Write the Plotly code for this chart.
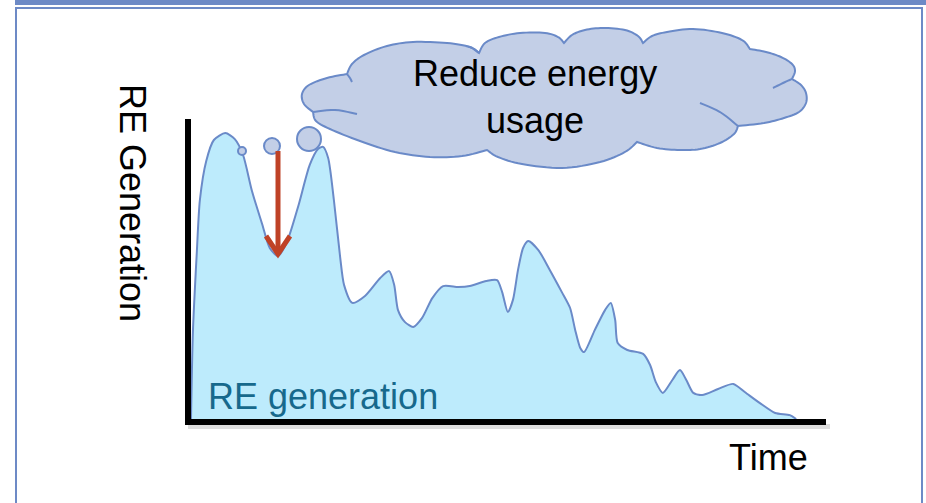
import plotly.graph_objects as go

# ---------------- data ----------------
time = [0, 0.3, 0.9, 1.4, 2.4, 3.6, 5.4, 6.9, 8.2, 9.6, 11.2, 12.4, 13.7, 15.1, 16.9,
        18.7, 20.0, 20.8, 21.6, 22.5, 23.5, 24.1, 25.4, 27.4, 29.8, 31.2, 32.0, 32.6,
        33.7, 35.0, 36.4, 38.0, 39.7, 42.1, 43.9, 46.5, 48.2, 49.0, 49.9, 50.7, 51.5,
        52.3, 53.1, 54.7, 56.5, 58.4, 59.7, 60.5, 61.3, 61.9, 63.6, 65.2, 66.1, 66.8,
        67.2, 68.7, 71.2, 72.3, 73.2, 74.3, 75.8, 77.0, 78.0, 79.1, 80.5, 83.0, 85.4,
        87.2, 89.6, 92.0, 94.3, 95.3]
generation = [0, 29, 55, 73, 86, 93, 95.3, 93.3, 88, 76, 65, 57, 54.3, 59, 71, 84.7,
              90, 90.7, 87, 73, 53.7, 44.7, 38.7, 41, 47, 49.3, 44.7, 36.3, 32.3, 30.7,
              33.7, 40.3, 44.3, 44, 44.3, 46, 46.3, 42.3, 35.7, 39.7, 49.7, 57, 59.3,
              56.3, 49.7, 42.3, 37, 29.7, 23.7, 22.3, 29.7, 36.3, 38.7, 33, 25.3, 23,
              21.7, 18, 12.3, 8.7, 13, 16.3, 13, 8.7, 8, 10, 11.7, 9, 5.3, 2, 1.3, 0]

y_title = "RE Generation"
x_title = "Time"
series_label = "RE generation"
cloud_text = "Reduce energy<br>usage"

# ---------------- layout helpers ----------------
W, H = 926, 503
L, R, T, B = 191, 826, 119, 419   # plot area in pixels

FONT = "Liberation Sans, Arial, sans-serif"
FRAME = "#6D8AC6"
CLOUD_FILL = "#C3CFE7"
CLOUD_LINE = "#6A8AC8"
ARROW = "#BF4226"


def fx(x):
    return (x - L) / (R - L)


def fy(y):
    return (B - y) / (B - T)


def smooth(pts, n=8):
    """Catmull-Rom curve through the given points."""
    P = [pts[0]] + list(pts) + [pts[-1]]
    out = []
    for i in range(1, len(P) - 2):
        p0, p1, p2, p3 = P[i - 1], P[i], P[i + 1], P[i + 2]
        for k in range(n):
            t = k / n
            t2, t3 = t * t, t * t * t
            out.append(tuple(
                0.5 * (2 * p1[j] + (-p0[j] + p2[j]) * t
                       + (2 * p0[j] - 5 * p1[j] + 4 * p2[j] - p3[j]) * t2
                       + (-p0[j] + 3 * p1[j] - 3 * p2[j] + p3[j]) * t3)
                for j in range(2)))
    out.append(pts[-1])
    return out


def to_path(pts, close):
    s = "M " + " L ".join(f"{fx(x):.5f},{fy(y):.5f}" for x, y in pts)
    return s + (" Z" if close else "")


# cloud outline, bump by bump (traced in pixels)
bumps = [
    [(347, 74), (352, 64), (364, 55), (387, 46), (413, 42), (447, 43), (470, 47), (479, 53)],
    [(479, 53), (485, 43), (499, 37), (520, 33), (545, 33), (558, 37), (564, 43)],
    [(564, 43), (572, 35), (585, 30), (603, 28), (625, 30), (638, 36), (643, 43)],
    [(643, 43), (652, 36), (667, 32), (693, 29), (722, 33), (742, 40), (750, 49)],
    [(750, 49), (766, 52), (781, 57), (792, 64), (795, 71), (792, 79)],
    [(792, 79), (801, 85), (806, 93), (806, 103), (799, 112), (784, 118), (764, 123), (738, 126)],
    [(738, 126), (734, 134), (720, 143), (700, 149), (680, 150), (657, 148), (637, 142)],
    [(637, 142), (625, 152), (600, 162), (562, 168), (522, 164), (498, 157), (487, 150)],
    [(487, 150), (462, 156), (430, 157), (395, 152), (360, 141), (330, 129), (316, 121), (313, 112)],
    [(313, 112), (304, 104), (302, 94), (309, 85), (327, 78), (347, 74)],
]
cloud_pts = []
for b in bumps:
    cloud_pts += smooth(b)[:-1]

inner_arcs = [
    [(792, 79), (783, 83), (773, 88)],
    [(738, 126), (720, 112), (700, 103)],
    [(313, 112), (335, 110), (357, 114)],
    [(347, 74), (350, 78), (352, 82)],
    [(479, 53), (472, 48), (466, 46)],
]

shapes = [
    # frame
    dict(type="rect", xref="paper", yref="paper", x0=fx(15), x1=fx(926), y0=fy(0), y1=fy(5),
         fillcolor=FRAME, line=dict(width=0), layer="below"),
    dict(type="rect", xref="paper", yref="paper", x0=fx(16), x1=fx(922), y0=fy(8), y1=fy(520),
         fillcolor="rgba(0,0,0,0)", line=dict(color=FRAME, width=2), layer="below"),
    # axis shadow
    dict(type="rect", xref="paper", yref="paper", x0=fx(188), x1=fx(830), y0=fy(424), y1=fy(429),
         fillcolor="rgba(0,0,0,0.13)", line=dict(width=0), layer="below"),
    # cloud
    dict(type="path", xref="paper", yref="paper", path=to_path(cloud_pts, True),
         fillcolor=CLOUD_FILL, line=dict(color=CLOUD_LINE, width=2), layer="above"),
]
for ia in inner_arcs:
    shapes.append(dict(type="path", xref="paper", yref="paper", path=to_path(smooth(ia, 6), False),
                       line=dict(color=CLOUD_LINE, width=2), layer="above"))
# thought bubbles
for cx, cy, r in [(242, 151, 4), (272, 146, 8), (309, 139, 12)]:
    shapes.append(dict(type="circle", xref="paper", yref="paper",
                       x0=fx(cx - r), x1=fx(cx + r), y0=fy(cy + r), y1=fy(cy - r),
                       fillcolor=CLOUD_FILL, line=dict(color=CLOUD_LINE, width=2), layer="above"))
# red arrow (shaft + open chevron head)
shapes.append(dict(type="path", xref="paper", yref="paper",
                   path=to_path([(278, 151), (278, 252)], False),
                   line=dict(color=ARROW, width=5), layer="above"))
shapes.append(dict(type="path", xref="paper", yref="paper",
                   path=to_path([(266, 236), (278, 254), (290, 236)], False),
                   line=dict(color=ARROW, width=5), layer="above"))

annotations = [
    dict(text=y_title, xref="paper", yref="paper", x=fx(133), y=fy(203), textangle=90,
         showarrow=False, xanchor="center", yanchor="middle",
         font=dict(family=FONT, size=36, color="black")),
    dict(text=x_title, xref="paper", yref="paper", x=fx(768), y=fy(457),
         showarrow=False, xanchor="center", yanchor="middle",
         font=dict(family=FONT, size=36, color="black")),
    dict(text=series_label, xref="paper", yref="paper", x=fx(206), y=fy(396),
         showarrow=False, xanchor="left", yanchor="middle",
         font=dict(family=FONT, size=36, color="#17698C")),
    dict(text=cloud_text, xref="paper", yref="paper", x=fx(535), y=fy(97),
         showarrow=False, xanchor="center", yanchor="middle",
         font=dict(family=FONT, size=36, color="black")),
]

fig = go.Figure()
fig.add_trace(go.Scatter(
    x=time, y=generation, mode="lines",
    line=dict(color="#6A8AC8", width=2, shape="spline", smoothing=0.7),
    fill="tozeroy", fillcolor="#BDEBFC", hoverinfo="skip", showlegend=False,
))

axis_common = dict(showline=True, linewidth=6, linecolor="black", showgrid=False,
                   zeroline=False, showticklabels=False, ticks="", fixedrange=True)
fig.update_layout(
    width=W, height=H,
    margin=dict(l=L, r=W - R, t=T, b=H - B),
    paper_bgcolor="white", plot_bgcolor="white",
    xaxis=dict(range=[0, 100], **axis_common),
    yaxis=dict(range=[0, 100], **axis_common),
    shapes=shapes, annotations=annotations,
    showlegend=False,
)

fig.write_html("out.html", config={"displayModeBar": False},
               post_script="document.body.style.margin='0px';document.body.style.padding='0px';")
